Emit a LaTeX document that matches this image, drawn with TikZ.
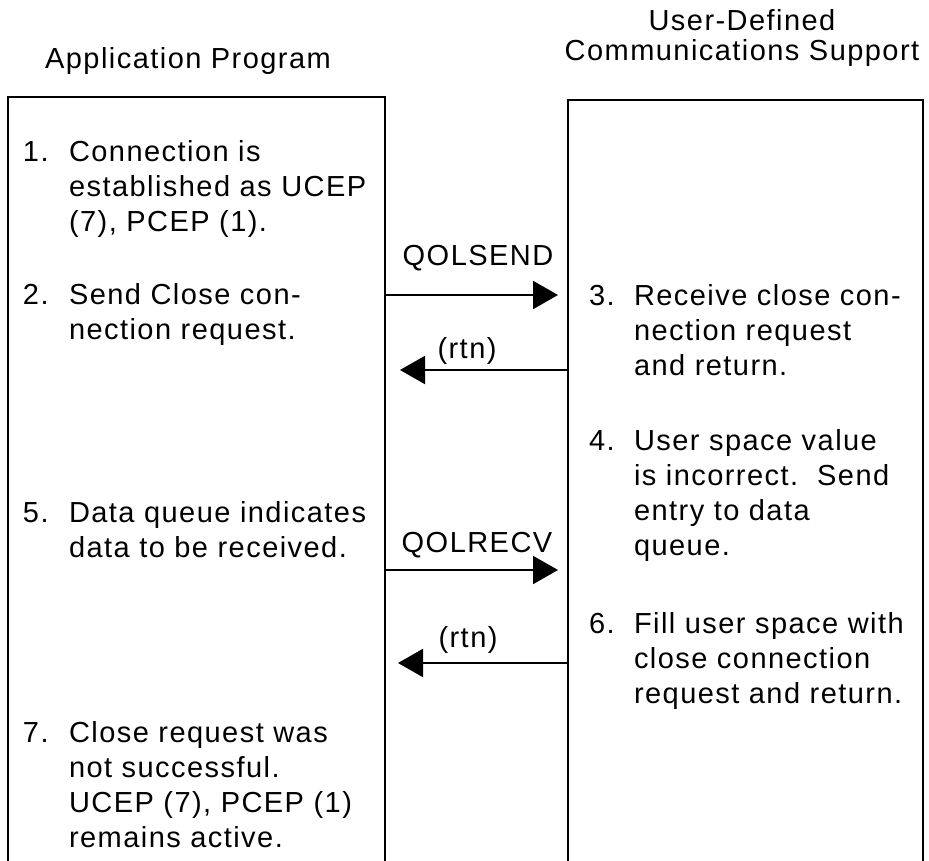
\documentclass[tikz,border=0pt]{standalone}
\usepackage{fontspec}
\setmainfont{Liberation Sans}[LetterSpace=5]
\usetikzlibrary{arrows.meta}

\begin{document}
\begin{tikzpicture}[x=1pt, y=-1pt, line width=2pt,
    side/.style={draw, anchor=north west, outer sep=0pt, minimum height=820pt},
    txt/.style={anchor=base west, align=left, inner sep=0pt, font=\fontsize{29}{35}\selectfont},
    lbl/.style={anchor=base, inner sep=0pt, font=\fontsize{29}{35}\selectfont},
    msg/.style={-{Triangle[length=25pt, width=28pt]}}]
    \clip (0,0) rectangle (929,860);
    % headings
    \node[lbl] (apphead) at (188,68) {Application Program};
    \node[lbl] (ucshead1) at (742,30) {User-Defined};
    \node[lbl] (ucshead2) at (742,60) {Communications Support};
    % the two sides, open at the bottom
    \node[side, minimum width=377pt] (app) at (8,97) {};
    \node[side, minimum width=355pt] (ucs) at (568,100) {};
    % application program steps (text nodes sit on their last line)
    \node[txt] (n1) at (22,161) {1.};
    \node[txt] (t1) at (68,231) {Connection is\\established as UCEP\\(7), PCEP (1).};
    \node[txt] (n2) at (22,304) {2.};
    \node[txt] (t2) at (68,339) {Send Close con-\\nection request.};
    \node[txt] (n5) at (22,522) {5.};
    \node[txt] (t5) at (68,557) {Data queue indicates\\data to be received.};
    \node[txt] (n7) at (22,742) {7.};
    \node[txt] (t7) at (68,847) {Close request was\\not successful.\\UCEP (7), PCEP (1)\\remains active.};
    % communications support steps
    \node[txt] (n3) at (588,305) {3.};
    \node[txt] (t3) at (633,375) {Receive close con-\\nection request\\and return.};
    \node[txt] (n4) at (588,450) {4.};
    \node[txt] (t4) at (633,555) {User space value\\is incorrect.\ \ Send\\entry to data\\queue.};
    \node[txt] (n6) at (588,633) {6.};
    \node[txt] (t6) at (633,703) {Fill user space with\\close connection\\request and return.};
    % calls and returns
    \coordinate (send) at (558,295);
    \coordinate (ret1) at (400,370);
    \coordinate (recv) at (558,570);
    \coordinate (ret2) at (398,663);
    \draw[msg] (send -| app.east) -- (send);
    \draw[msg] (ret1 -| ucs.west) -- (ret1);
    \draw[msg] (recv -| app.east) -- (recv);
    \draw[msg] (ret2 -| ucs.west) -- (ret2);
    \node[lbl] (sendlbl) at (478,265) {QOLSEND};
    \node[lbl] (ret1lbl) at (467,358) {(rtn)};
    \node[lbl] (recvlbl) at (477,552) {QOLRECV};
    \node[lbl] (ret2lbl) at (468,647) {(rtn)};
\end{tikzpicture}
\end{document}
